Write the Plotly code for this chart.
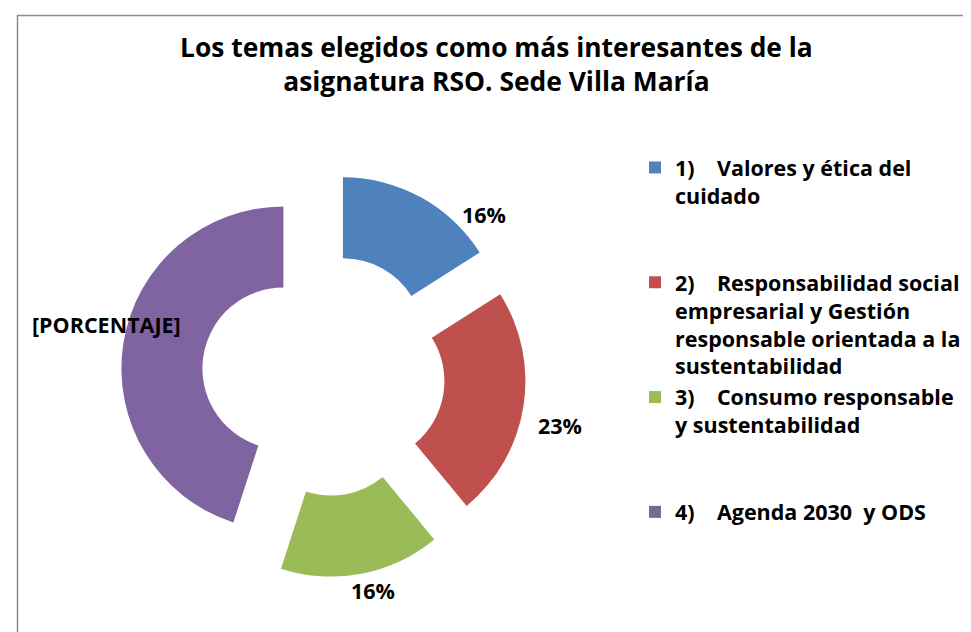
import plotly.graph_objects as go

# ---- data ----
categories = [
    "1)    Valores y ética del<br>cuidado<br> <br> ",
    "2)    Responsabilidad social<br>empresarial y Gestión<br>responsable orientada a la<br>sustentabilidad",
    "3)    Consumo responsable<br>y sustentabilidad<br> <br> ",
    "4)    Agenda 2030  y ODS<br> <br> <br> ",
]
values = [16, 23, 16, 45]
label_texts = ["16%", "23%", "16%", "[PORCENTAJE]"]
colors = ["#4F81BD", "#C0504D", "#9BBB59", "#8064A2"]
title_text = "Los temas elegidos como más interesantes de la<br>asignatura RSO. Sede Villa María"

W, H = 971, 632
FONT = "Open Sans"

dx, dy = -7, -7  # pixel shift of pie domain
fig = go.Figure()
fig.add_trace(go.Pie(
    labels=[f"<b>{c}</b>" for c in categories],
    values=values,
    hole=0.5,
    pull=[0.25] * len(values),
    sort=False,
    direction="clockwise",
    rotation=0,
    marker=dict(colors=colors, line=dict(width=0)),
    textinfo="none",
    hoverinfo="label+percent",
    domain=dict(x=[0.1235 + dx / W, 0.5406 + dx / W],
                y=[0.0881 - dy / H, 0.729 - dy / H]),
))

# data label placement (pixel centres -> paper fractions)
label_pos = [(476, 207), (552, 417), (365, 582), (98, 316)]
for txt, (px, py) in zip(label_texts, label_pos):
    fig.add_annotation(
        x=px / W, y=1 - py / H, xref="paper", yref="paper",
        text=f"<b>{txt}</b>", showarrow=False,
        font=dict(family=FONT, size=21.5, color="#000000"),
        xanchor="center", yanchor="middle",
    )

fig.add_shape(
    type="rect", xref="paper", yref="paper",
    x0=9.5 / W, x1=1.02, y0=-0.02, y1=1 - 7.5 / H,
    line=dict(color="#8C8C8C", width=1.5), fillcolor="rgba(0,0,0,0)",
    layer="below",
)

fig.update_layout(
    width=W, height=H,
    margin=dict(l=0, r=0, t=0, b=0),
    paper_bgcolor="white",
    plot_bgcolor="white",
    title=dict(
        text=f"<b>{title_text}</b>",
        x=0.503, xanchor="center", xref="container",
        y=1 - 49 / H, yanchor="top", yref="container",
        font=dict(family=FONT, size=26.4, color="#000000"),
    ),
    showlegend=True,
    legend=dict(
        x=627 / W, xanchor="left",
        y=1 - 139 / H, yanchor="top",
        font=dict(family=FONT, size=21.5, color="#000000"),
        valign="top",
        bgcolor="rgba(0,0,0,0)",
        traceorder="normal",
    ),
)

fig.write_html("out.html")
